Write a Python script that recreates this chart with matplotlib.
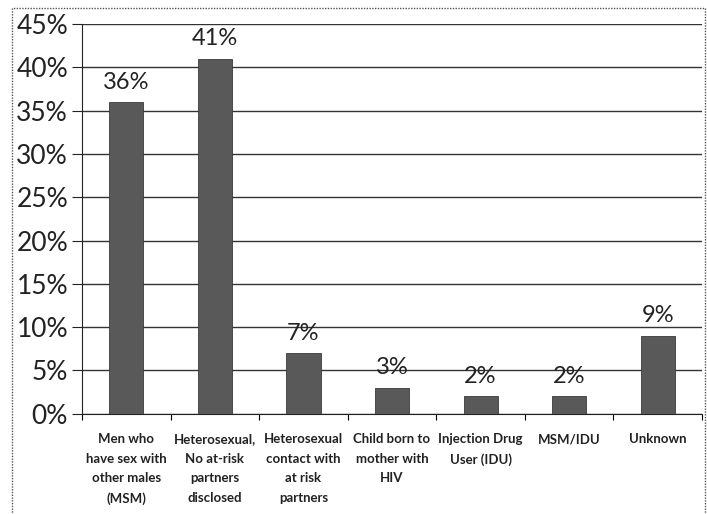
import matplotlib
matplotlib.use("Agg")
import matplotlib.pyplot as plt
from matplotlib.patches import Rectangle

categories = [
    "Men who\nhave sex with\nother males\n(MSM)",
    "Heterosexual,\nNo at-risk\npartners\ndisclosed",
    "Heterosexual\ncontact with\nat risk\npartners",
    "Child born to\nmother with\nHIV",
    "Injection Drug\nUser (IDU)",
    "MSM/IDU",
    "Unknown",
]
values = [36, 41, 7, 3, 2, 2, 9]
yticks = [0, 5, 10, 15, 20, 25, 30, 35, 40, 45]

plt.rcParams["font.family"] = ["Lato", "DejaVu Sans"]

fig = plt.figure(figsize=(7.07, 5.14), dpi=100)
ax = fig.add_axes([0.116, 0.195, 0.877, 0.758])

x = list(range(len(categories)))
ax.bar(x, values, width=0.385, color="#595959", edgecolor="#3a3a3a", linewidth=0.6, zorder=3)
for xi, v in zip(x, values):
    ax.text(xi, v + 1.1, f"{v}%", ha="center", va="bottom", fontsize=17, color="#222222")

ax.set_xlim(-0.5, len(categories) - 0.5)
ax.set_ylim(0, 45)
ax.set_yticks(yticks)
ax.set_yticklabels([f"{t}%" for t in yticks], fontsize=19)
ax.yaxis.grid(True, color="#333333", linewidth=1.0, zorder=0)
ax.tick_params(axis="y", length=7, width=0.8, pad=3, colors="#222222")

ax.set_xticks(x)
ax.set_xticklabels(categories, fontsize=9.5, fontweight="bold", linespacing=1.75, color="#222222")
ax.set_xticks([i - 0.5 for i in range(len(categories) + 1)], minor=True)
ax.tick_params(axis="x", which="major", length=0, pad=14)
ax.tick_params(axis="x", which="minor", length=4, width=0.8)

for s in ["top", "right"]:
    ax.spines[s].set_visible(False)
ax.spines["left"].set_color("#222222")
ax.spines["bottom"].set_color("#222222")

# outer dotted chart border
fig.patches.append(Rectangle((12 / 707, -0.01), 693 / 707, 1 - 8 / 514 + 0.01,
                             transform=fig.transFigure, fill=False,
                             edgecolor="#555555", linewidth=1.0, linestyle=(0, (1, 1))))

fig.savefig("out.png", dpi=100)
